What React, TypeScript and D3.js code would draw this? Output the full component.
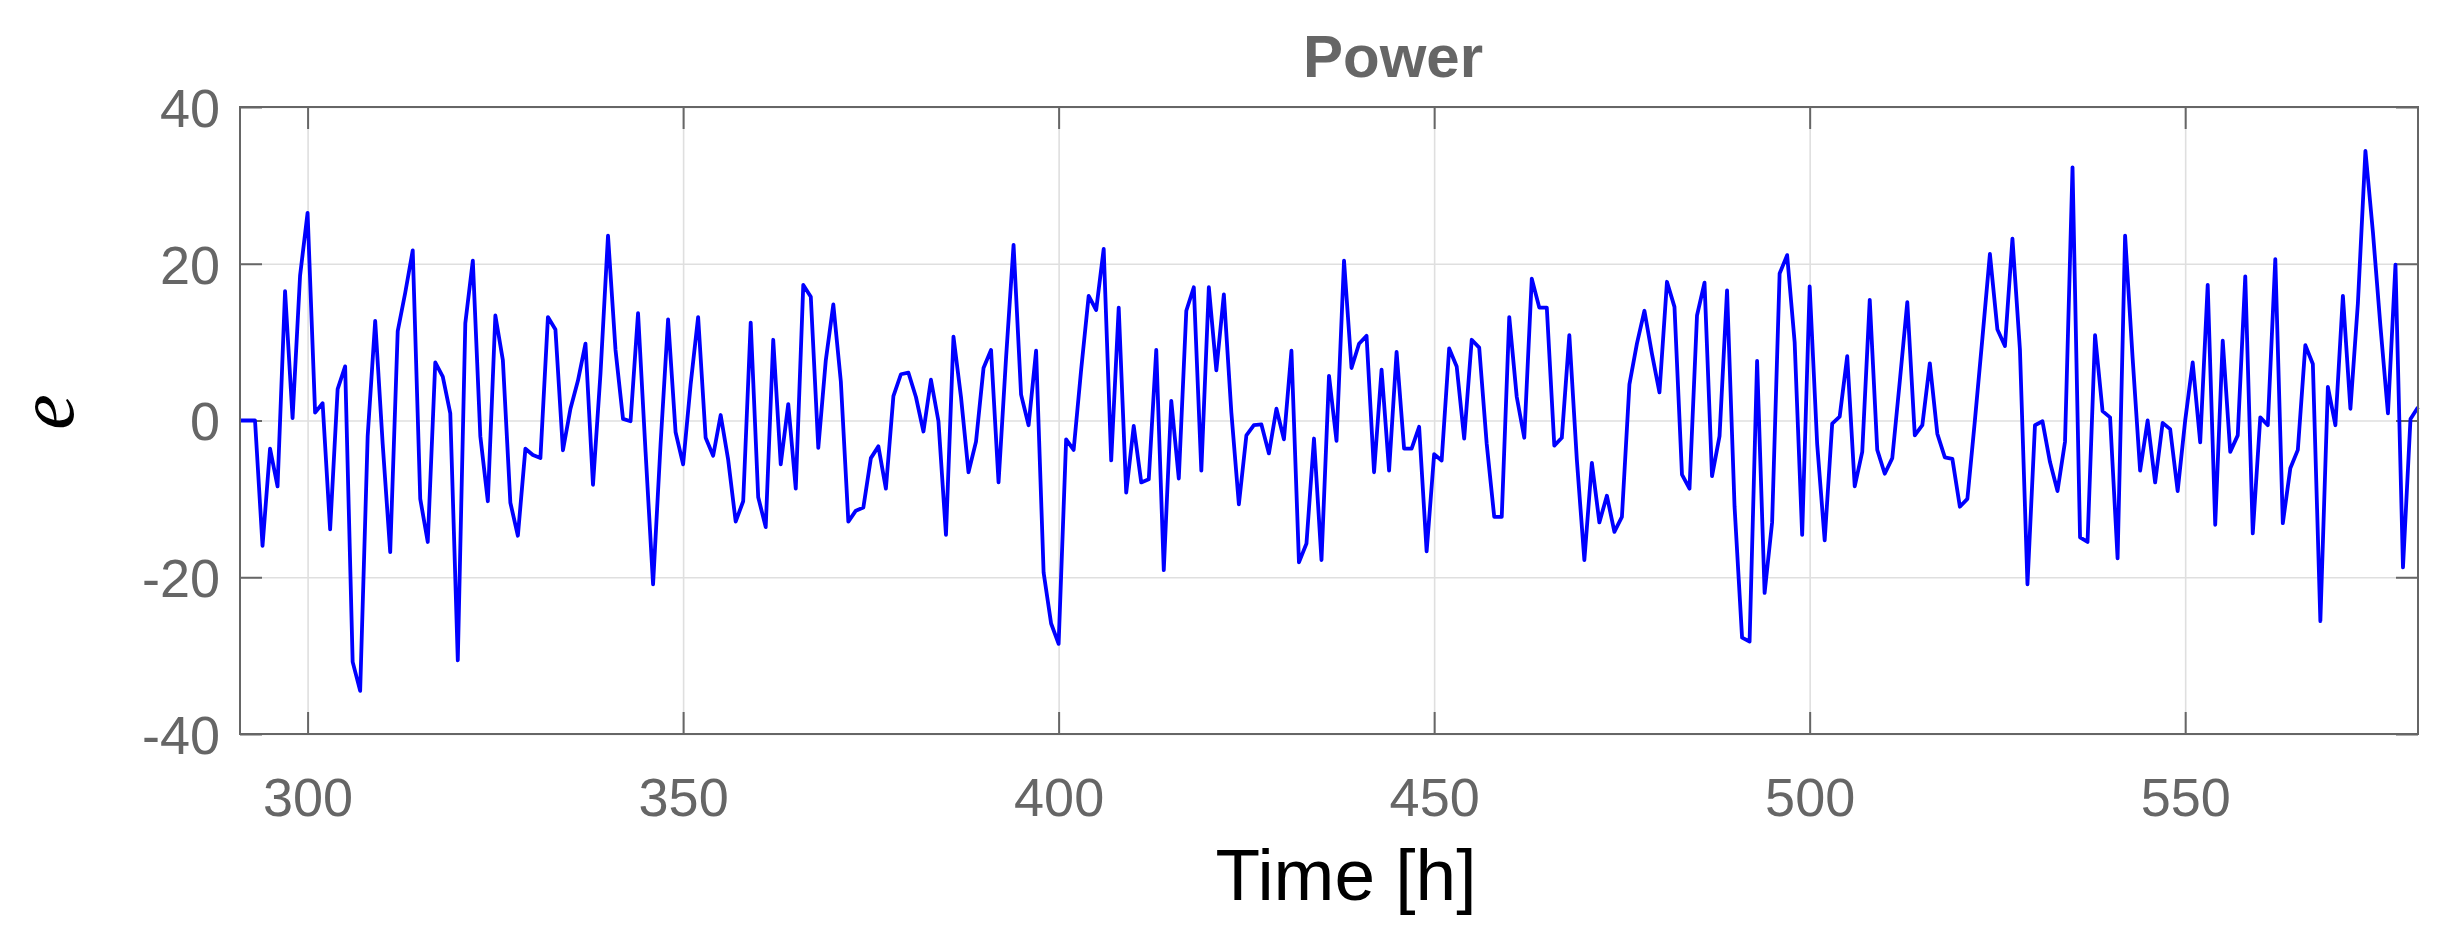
import React, { useEffect, useRef } from 'react'
import * as d3 from 'd3'

// hourly error values, first point at hour 291
const startHour = 291
const errHours291to340 = [
  0, 0, 0, -16.0, -3.6, -8.4, 16.5, 0.3, 18.5, 26.5,
  1.0, 2.2, -13.9, 4.0, 6.9, -30.8, -34.5, -2, 12.7, -3,
  -16.8, 11.4, 16.3, 21.7, -10, -15.5, 7.4, 5.6, 0.9, -30.6,
  12.4, 20.4, -2, -10.3, 13.4, 7.7, -10.5, -14.7, -3.6, -4.4,
  -4.8, 13.2, 11.6, -3.8, 1.5, 5.1, 9.8, -8.2, 6, 23.6,
]
const errHours341to390 = [
  9, 0.2, -0.1, 13.7, -4, -20.9, -3, 12.9, -1.5, -5.6,
  4.6, 13.2, -2.2, -4.5, 0.7, -5, -12.9, -10.3, 12.5, -9.8,
  -13.6, 10.3, -5.6, 2.1, -8.7, 17.3, 15.8, -3.5, 7.7, 14.8,
  5, -12.9, -11.5, -11.1, -4.8, -3.3, -8.7, 3.1, 5.9, 6.1,
  3.0, -1.4, 5.2, -0.1, -14.6, 10.7, 3, -6.6, -2.7, 6.7,
]
const errHours391to440 = [
  9.0, -7.9, 8, 22.4, 3.3, -0.6, 8.9, -19.4, -25.9, -28.5,
  -2.4, -3.75, 6.5, 15.9, 14.1, 21.9, -5.1, 14.4, -9.2, -0.7,
  -7.9, -7.5, 9.0, -19.1, 2.5, -7.4, 14.0, 17.0, -6.4, 17.0,
  6.4, 16.1, 1, -10.7, -1.9, -0.6, -0.5, -4.2, 1.5, -2.4,
  8.9, -18.1, -15.7, -2.3, -17.8, 5.7, -2.6, 20.4, 6.7, 9.8,
]
const errHours441to490 = [
  10.8, -6.6, 6.5, -6.4, 8.75, -3.6, -3.6, -0.8, -16.7, -4.3,
  -5.1, 9.2, 6.9, -2.3, 10.3, 9.3, -3, -12.3, -12.3, 13.2,
  3, -2.2, 18.1, 14.4, 14.4, -3.2, -2.2, 10.9, -5, -17.8,
  -5.4, -13.0, -9.6, -14.2, -12.3, 4.6, 9.8, 14.0, 8.5, 3.6,
  17.7, 14.5, -6.9, -8.7, 13.4, 17.6, -7.1, -2, 16.6, -11,
]
const errHours491to540 = [
  -27.7, -28.2, 7.6, -22.0, -13, 18.75, 21.1, 10, -14.6, 17.1,
  -3, -15.3, -0.4, 0.5, 8.2, -8.4, -4.0, 15.4, -3.75, -6.8,
  -4.8, 5, 15.1, -1.9, -0.6, 7.3, -1.7, -4.7, -4.9, -11.0,
  -10.0, 0, 10.5, 21.25, 11.6, 9.5, 23.2, 9, -20.9, -0.6,
  -0.1, -5.3, -9.0, -2.7, 32.3, -14.9, -15.5, 10.9, 1.2, 0.4,
]
const errHours541to581 = [
  -17.6, 23.6, 8, -6.4, 0, -7.9, -0.3, -1.1, -9.0, 0,
  7.4, -2.8, 17.3, -13.3, 10.2, -4.0, -1.9, 18.4, -14.4, 0.4,
  -0.6, 20.6, -13.1, -6.1, -3.75, 9.6, 7.2, -25.6, 4.3, -0.6,
  15.9, 1.5, 15, 34.4, 24, 12, 0.9, 19.9, -18.75, 0.2,
  1.7,
]

const xTicks = [300, 350, 400, 450, 500, 550]
const yTicks = [-40, -20, 0, 20, 40]
const xDomain = [291, 581]
const yDomain = [-40, 40]
const chartTitle = 'Power'
const xLabel = 'Time [h]'
const yLabel = 'e'

const errors = [
  ...errHours291to340,
  ...errHours341to390,
  ...errHours391to440,
  ...errHours441to490,
  ...errHours491to540,
  ...errHours541to581,
]
const points = errors.map((v, i) => ({ hour: startHour + i, value: v }))

const W = 2449
const H = 942
const margin = { top: 107, right: 31, bottom: 208, left: 240 }
const width = W - margin.left - margin.right
const height = H - margin.top - margin.bottom

const axisGray = '#666666'
const sans = '"Liberation Sans", Arial, Helvetica, sans-serif'

export default function App () {
  const ref = useRef<SVGSVGElement>(null)

  useEffect(() => {
    const svg = d3.select(ref.current)
    svg.selectAll('*').remove()

    const x = d3.scaleLinear().domain(xDomain).range([0, width])
    const y = d3.scaleLinear().domain(yDomain).range([height, 0])
    const plain = (d: d3.NumberValue) => String(d)

    const g = svg.append('g')
      .attr('transform', `translate(${margin.left}, ${margin.top})`)

    // grid
    const xGrid = g.append('g')
      .attr('transform', `translate(0, ${height})`)
      .call(d3.axisBottom(x).tickValues(xTicks).tickSize(-height).tickFormat(() => ''))
    const yGrid = g.append('g')
      .call(d3.axisLeft(y).tickValues(yTicks).tickSize(-width).tickFormat(() => ''))
    for (const gr of [xGrid, yGrid]) {
      gr.select('.domain').remove()
      gr.selectAll('line').attr('stroke', '#dfdfdf').attr('stroke-width', 1.6)
    }

    // inward ticks on all four sides
    const tickLen = 22
    const bottom = g.append('g')
      .attr('transform', `translate(0, ${height})`)
      .call(d3.axisBottom(x).tickValues(xTicks).tickSizeInner(-tickLen).tickSizeOuter(0).tickPadding(44).tickFormat(plain))
    const top = g.append('g')
      .call(d3.axisTop(x).tickValues(xTicks).tickSizeInner(-tickLen).tickSizeOuter(0).tickFormat(() => ''))
    const left = g.append('g')
      .call(d3.axisLeft(y).tickValues(yTicks).tickSizeInner(-tickLen).tickSizeOuter(0).tickPadding(20).tickFormat(plain))
    const right = g.append('g')
      .attr('transform', `translate(${width}, 0)`)
      .call(d3.axisRight(y).tickValues(yTicks).tickSizeInner(-tickLen).tickSizeOuter(0).tickFormat(() => ''))

    for (const ax of [bottom, top, left, right]) {
      ax.select('.domain').remove()
      ax.selectAll('line').attr('stroke', axisGray).attr('stroke-width', 2)
      ax.selectAll('text')
        .attr('fill', axisGray)
        .style('font-family', sans)
        .style('font-size', '54px')
    }
    left.selectAll('text').attr('dy', '0.36em')

    // data line
    const line = d3.line<{ hour: number, value: number }>()
      .x(d => x(d.hour))
      .y(d => y(d.value))

    g.append('path')
      .datum(points)
      .attr('d', line)
      .attr('fill', 'none')
      .attr('stroke', '#0000ff')
      .attr('stroke-width', 3.8)
      .attr('stroke-linejoin', 'round')

    // frame
    g.append('rect')
      .attr('width', width)
      .attr('height', height)
      .attr('fill', 'none')
      .attr('stroke', axisGray)
      .attr('stroke-width', 2)

    // title and labels
    svg.append('text')
      .attr('x', 1393)
      .attr('y', 77)
      .attr('text-anchor', 'middle')
      .attr('fill', axisGray)
      .style('font-family', sans)
      .style('font-weight', 'bold')
      .style('font-size', '60px')
      .text(chartTitle)

    svg.append('text')
      .attr('x', 1346)
      .attr('y', 900)
      .attr('text-anchor', 'middle')
      .attr('fill', '#000')
      .style('font-family', sans)
      .style('font-size', '73px')
      .text(xLabel)

    svg.append('text')
      .attr('transform', 'translate(73, 412) rotate(-90)')
      .attr('text-anchor', 'middle')
      .attr('fill', '#000')
      .style('font-family', '"Liberation Serif", "Times New Roman", serif')
      .style('font-style', 'italic')
      .style('font-size', '80px')
      .text(yLabel)
  }, [])

  return (
    <svg
      ref={ref}
      width={W}
      height={H}
      style={{ position: 'absolute', left: 0, top: 0, background: '#fff' }}
    />
  )
}
